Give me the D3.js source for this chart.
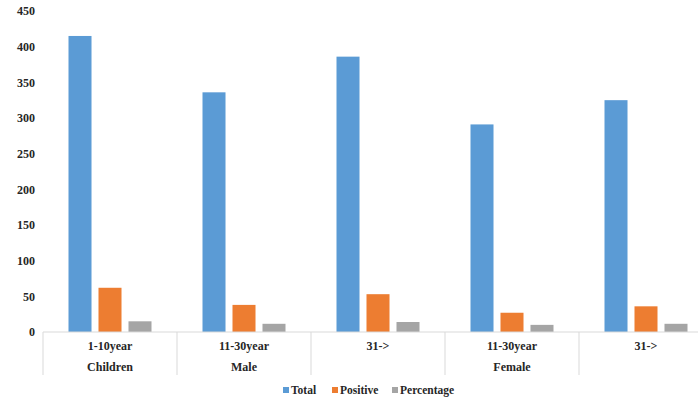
<!DOCTYPE html>
<html><head><meta charset="utf-8">
<script src="https://cdn.jsdelivr.net/npm/d3@7"></script>
<style>body{margin:0;background:#fff}svg{display:block}</style>
</head><body><svg id="c" width="698" height="401"></svg>
<script>
const categories = ["1-10year","11-30year","31->","11-30year","31->"];
const groups = ["Children","Male","","Female",""];
const seriesNames = ["Total","Positive","Percentage"];
const totalVals = [415,336,386,291,325];
const positiveVals = [62,38,53,27,36];
const percentVals = [15,11.5,14,10,11.5];
const yTicks = [0,50,100,150,200,250,300,350,400,450];
const colors = ["#5B9BD5","#ED7D31","#A5A5A5"];

const svg = d3.select("#c");
const series = [totalVals, positiveVals, percentVals];
const idx = categories.map((d,i)=>i);
const x = d3.scaleBand().domain(idx).range([43,713]).paddingInner(0).paddingOuter(0);
const xs = d3.scaleBand().domain(d3.range(3)).range([0,x.bandwidth()]).paddingInner(0.233).paddingOuter(0.85);
const y = d3.scaleLinear().domain([0,450]).range([332,11]);

function txt(sel, size){
  return sel.style("font-family","'Liberation Serif', 'Times New Roman', serif","important")
    .style("font-weight","700","important").style("font-size",size+"px","important")
    .style("fill","#262626");
}

// y tick labels
txt(svg.append("g").selectAll("text").data(yTicks).join("text"),12)
  .attr("x",35).attr("y",d=>y(d)).attr("dy","0.35em").attr("text-anchor","end")
  .text(d=>d);

// bars
const g = svg.append("g");
series.forEach((vals,s)=>{
  g.selectAll(".b"+s).data(vals).join("rect")
    .attr("x",(d,i)=>x(i)+xs(s)).attr("width",xs.bandwidth())
    .attr("y",d=>y(d)).attr("height",d=>y(0)-y(d)).attr("fill",colors[s]);
});

// axis line and dividers
svg.append("line").attr("x1",43).attr("x2",698).attr("y1",y(0)).attr("y2",y(0)).attr("stroke","#d9d9d9").attr("stroke-width",1);
svg.append("g").selectAll("line").data(idx.concat([idx.length])).join("line")
  .attr("x1",d=>d<idx.length?x(d):x(idx.length-1)+x.bandwidth())
  .attr("x2",d=>d<idx.length?x(d):x(idx.length-1)+x.bandwidth())
  .attr("y1",y(0)).attr("y2",375).attr("stroke","#d9d9d9");

txt(svg.append("g").selectAll("text").data(categories).join("text"),12)
  .attr("x",(d,i)=>x(i)+x.bandwidth()/2).attr("y",346).attr("dy","0.35em")
  .attr("text-anchor","middle").text(d=>d);
txt(svg.append("g").selectAll("text").data(groups).join("text"),12)
  .attr("x",(d,i)=>x(i)+x.bandwidth()/2).attr("y",367).attr("dy","0.35em")
  .attr("text-anchor","middle").text(d=>d);

// legend
const legX = [283,332,392];
const lg = svg.append("g");
seriesNames.forEach((n,i)=>{
  lg.append("rect").attr("x",legX[i]).attr("y",387).attr("width",6).attr("height",6).attr("fill",colors[i]);
  txt(lg.append("text"),11.5).attr("x",legX[i]+8).attr("y",390).attr("dy","0.35em").text(n);
});
</script></body></html>
